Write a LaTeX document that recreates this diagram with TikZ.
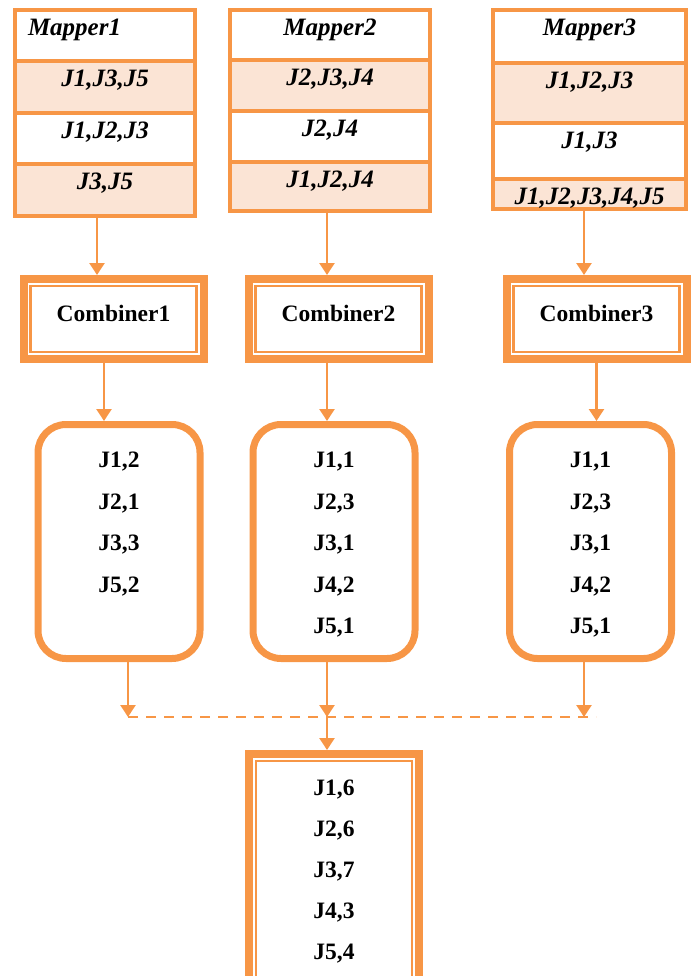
\documentclass[tikz,border=0pt]{standalone}
\usepackage{fontspec}
\setmainfont{Liberation Serif}
\usetikzlibrary{positioning,arrows.meta}
\definecolor{orng}{HTML}{F79646}
\definecolor{peach}{HTML}{FBE4D5}

\begin{document}
\begin{tikzpicture}[
  x=1pt, y=-1pt,
  cell/.style={draw=orng, fill=white, line width=3.5pt, outer sep=0pt, inner ysep=0pt,
    font=\fontsize{25}{30}\selectfont\bfseries\itshape, text height=26pt, text depth=#1},
  hot/.style={cell=#1, fill=peach},
  comb/.style={draw=orng, line width=8pt, minimum width=180pt, minimum height=80pt,
    font=\fontsize{23.5}{28}\selectfont\bfseries, text depth=12pt,
    append after command={\pgfextra{\draw[orng, line width=2.5pt]
      ([shift={(11pt,-11pt)}]\tikzlastnode.north west) rectangle
      ([shift={(-11pt,11pt)}]\tikzlastnode.south east);}}},
  tally/.style 2 args={draw=orng, line width=7pt, rounded corners=28pt, minimum width=162pt,
    inner ysep=0pt, align=center, font=\fontsize{23.5}{41.5}\selectfont\bfseries,
    text height=#1, text depth=#2},
  total/.style={comb, minimum width=170pt, inner ysep=0pt, align=center,
    font=\fontsize{23.5}{41}\selectfont\bfseries, text height=205pt, text depth=250pt},
  flow/.style={-{Triangle[length=12pt,width=15pt]}, orng, line width=2.5pt},
  link/.style={orng, line width=2.5pt, dash pattern=on 10pt off 8pt}
]
\useasboundingbox (0,0) rectangle (691,976);
% ---- Mappers ----
\node[cell=25pt, minimum width=180pt, text width=154pt, align=left, anchor=north] (m1h) at (105,10) {Mapper1};
\node[hot=26pt, minimum width=180pt, below=0pt of m1h] (m1a) {J1,J3,J5};
\node[cell=25pt, minimum width=180pt, below=0pt of m1a] (m1b) {J1,J2,J3};
\node[hot=26pt, minimum width=180pt, below=0pt of m1b] (m1c) {J3,J5};

\node[cell=24pt, minimum width=200pt, anchor=north] (m2h) at (330,10) {Mapper2};
\node[hot=25pt, minimum width=200pt, below=0pt of m2h] (m2a) {J2,J3,J4};
\node[cell=25pt, minimum width=200pt, below=0pt of m2a] (m2b) {J2,J4};
\node[hot=23pt, minimum width=200pt, below=0pt of m2b] (m2c) {J1,J2,J4};

\node[cell=27pt, minimum width=193pt, anchor=north] (m3h) at (589.5,10) {Mapper3};
\node[hot=34pt, minimum width=193pt, below=0pt of m3h] (m3a) {J1,J2,J3};
\node[cell=30pt, minimum width=193pt, below=0pt of m3a] (m3b) {J1,J3};
\node[hot=4pt, minimum width=193pt, below=0pt of m3b] (m3c) {J1,J2,J3,J4,J5};
% ---- Combiners ----
\node[comb] (c1) at (113.5,319) {Combiner1};
\node[comb] (c2) at (338.5,319) {Combiner2};
\node[comb] (c3) at (596.5,319) {Combiner3};
% ---- Combiner outputs ----
\node[tally={167.5pt}{66.5pt}, anchor=north] (r1) at (119,421) {J1,2\\J2,1\\J3,3\\J5,2};
\node[tally={209pt}{25pt}, anchor=north] (r2) at (334,421) {J1,1\\J2,3\\J3,1\\J4,2\\J5,1};
\node[tally={209pt}{25pt}, anchor=north] (r3) at (590.5,421) {J1,1\\J2,3\\J3,1\\J4,2\\J5,1};
% ---- Reducer ----
\coordinate (join) at (327,717);
\node[total, anchor=north] (fin) at (334,750) {J1,6\\J2,6\\J3,7\\J4,3\\J5,4};
% ---- connectors ----
\draw[flow] ([xshift=-8pt]m1c.south) -- ([xshift=-8pt]m1c.south |- c1.north);
\draw[flow] ([xshift=-3pt]m2c.south) -- ([xshift=-3pt]m2c.south |- c2.north);
\draw[flow] ([xshift=-5.5pt]m3c.south) -- ([xshift=-5.5pt]m3c.south |- c3.north);
\draw[flow] ([xshift=-9.5pt]c1.south) -- ([xshift=-9.5pt]c1.south |- r1.north);
\draw[flow] ([xshift=-11.5pt]c2.south) -- ([xshift=-11.5pt]c2.south |- r2.north);
\draw[flow] (c3.south) -- (c3.south |- r3.north);
\draw[link] ([xshift=9pt]r1.south |- join) -- ([xshift=5.5pt]r3.south |- join);
\draw[flow] ([xshift=9pt]r1.south) -- ([xshift=9pt]r1.south |- join);
\draw[flow] ([xshift=-7pt]r2.south) -- (join);
\draw[flow] ([xshift=-6.5pt]r3.south) -- ([xshift=-6.5pt]r3.south |- join);
\draw[flow] (join) -- (join |- fin.north);
\end{tikzpicture}
\end{document}
